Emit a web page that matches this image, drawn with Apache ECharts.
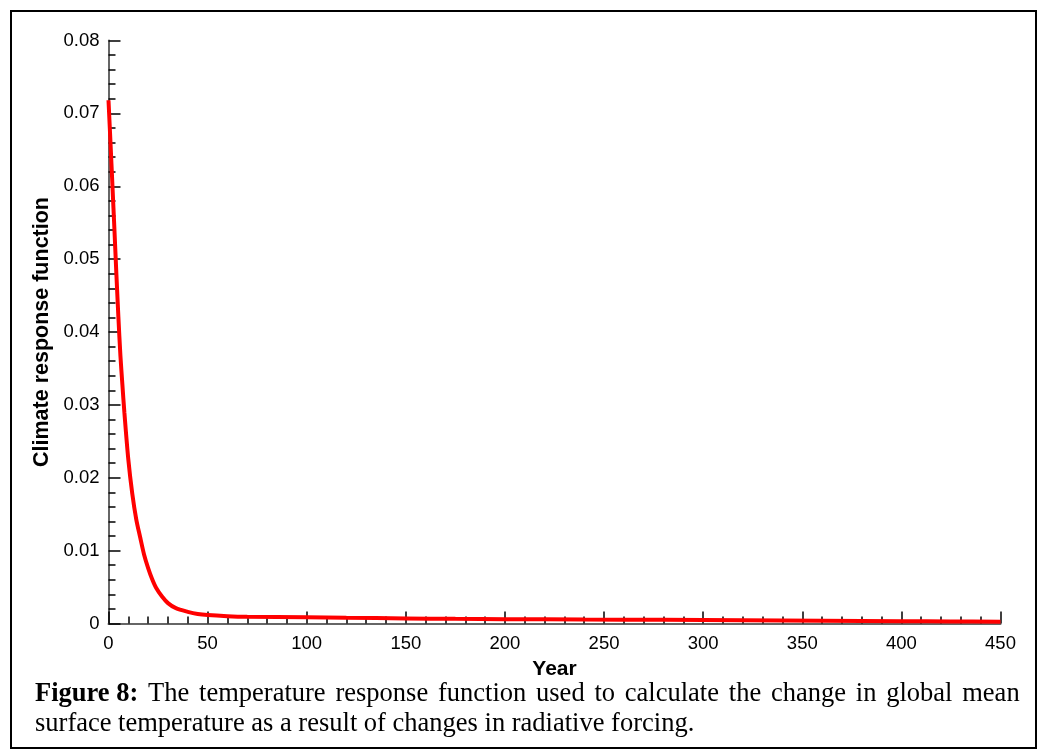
<!DOCTYPE html>
<html>
<head>
<meta charset="utf-8">
<script src="https://cdn.jsdelivr.net/npm/echarts@6/dist/echarts.min.js"></script>
<style>
html,body{margin:0;padding:0;background:#fff;}
#chart{width:1040px;height:753px;}
</style>
</head>
<body>
<div id="chart"></div>
<script>
// Data
var years = [0, 1, 2, 3, 4, 5, 6, 7, 8, 10, 12, 14, 16, 18, 20, 22, 24, 27, 30, 34, 40, 45, 50, 60, 70, 100, 120, 150, 175, 200, 240, 280, 320, 360, 400, 425, 450];
var responseValues = [0.0718, 0.066, 0.060, 0.054, 0.0478, 0.042, 0.0368, 0.0328, 0.029, 0.0225, 0.0178, 0.0143, 0.0118, 0.0094, 0.0076, 0.0061, 0.0049, 0.0037, 0.0028, 0.0021, 0.0016, 0.0013, 0.00115, 0.00100, 0.00092, 0.00085, 0.00078, 0.00070, 0.00064, 0.00060, 0.00055, 0.00050, 0.00043, 0.00038, 0.00032, 0.00028, 0.00025];
var xTicks = {min: 0, max: 450, interval: 50};
var yTicks = {min: 0, max: 0.08, interval: 0.01};
var xTitle = 'Year';
var yTitle = 'Climate response function';
var captionBold = 'Figure 8:';
var captionLine1 = 'The temperature response function used to calculate the change in global mean';
var captionLine2 = 'surface temperature as a result of changes in radiative forcing.';

var seriesData = years.map(function (y, i) { return [y, responseValues[i]]; });

// justified first caption line: word gaps widened via a rich-text spacer style
var line1Rich = '{b|' + captionBold + '}{sp| }' + captionLine1.split(' ').map(function (w) { return '{r|' + w + '}'; }).join('{sp| }');

var serif = 'Liberation Serif, Times New Roman, serif';
var axisFont = 'Liberation Sans, Arial, sans-serif';
var capSize = 26.5;

var chart = echarts.init(document.getElementById('chart'), null, {renderer: 'canvas'});
chart.setOption({
  animation: false,
  backgroundColor: '#fff',
  grid: {left: 108.5, right: 39.5, top: 40.5, bottom: 129.5, containLabel: false},
  xAxis: {
    type: 'value', min: xTicks.min, max: xTicks.max, interval: xTicks.interval,
    name: xTitle, nameLocation: 'middle', nameGap: 24,
    nameTextStyle: {fontFamily: axisFont, fontWeight: 'bold', fontSize: 21, color: '#000'},
    axisLine: {show: true, onZero: false, lineStyle: {color: '#666', width: 2}},
    axisTick: {show: true, inside: true, length: 12, lineStyle: {color: '#000', width: 1.5}},
    minorTick: {show: true, splitNumber: 5, length: 7, lineStyle: {color: '#000', width: 1.5}},
    splitLine: {show: false},
    axisLabel: {margin: 11, fontFamily: axisFont, fontSize: 18.5, color: '#000'}
  },
  yAxis: {
    type: 'value', min: yTicks.min, max: yTicks.max, interval: yTicks.interval,
    name: yTitle, nameLocation: 'middle', nameGap: 46, nameRotate: 90,
    nameTextStyle: {fontFamily: axisFont, fontWeight: 'bold', fontSize: 21.5, color: '#000'},
    axisLine: {show: true, onZero: false, lineStyle: {color: '#666', width: 2}},
    axisTick: {show: true, inside: true, length: 12, lineStyle: {color: '#000', width: 1.5}},
    minorTick: {show: true, splitNumber: 5, length: 7, lineStyle: {color: '#000', width: 1.5}},
    splitLine: {show: false},
    axisLabel: {margin: 9, fontFamily: axisFont, fontSize: 18.5, color: '#000',
      formatter: function (v) { return v === 0 ? '0' : v.toFixed(2); }}
  },
  series: [{
    type: 'line', data: seriesData, smooth: 0.3, showSymbol: false,
    lineStyle: {color: '#ff0000', width: 4}, z: 5
  }],
  graphic: [
    {type: 'rect', shape: {x: 11, y: 11, width: 1025, height: 737},
     style: {fill: 'none', stroke: '#000', lineWidth: 2}, silent: true},
    {type: 'text', left: 35, top: 681,
     style: {
       text: line1Rich,
       rich: {
         b: {fontFamily: serif, fontWeight: 'bold', fontSize: capSize, fill: '#000'},
         r: {fontFamily: serif, fontSize: capSize, fill: '#000'},
         sp: {fontFamily: serif, fontSize: capSize, width: 9.8}
       }
     }},
    {type: 'text', left: 35, top: 711,
     style: {text: captionLine2, fontFamily: serif, fontSize: capSize, fill: '#000'}}
  ]
});
</script>
</body>
</html>
